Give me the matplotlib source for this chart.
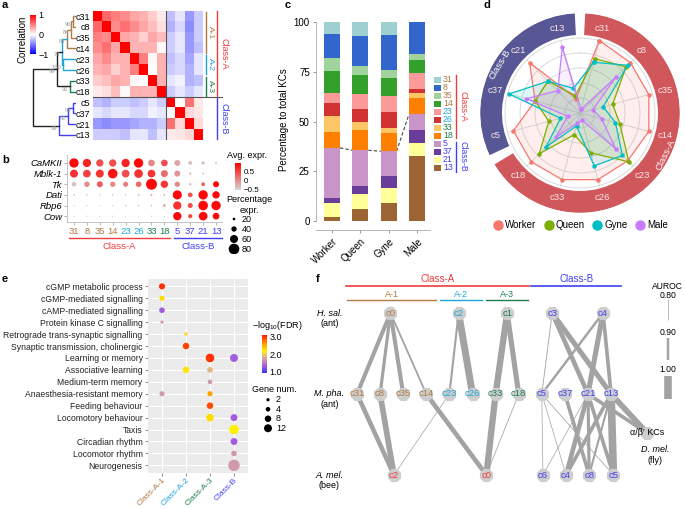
import numpy as np
import matplotlib
matplotlib.use('Agg')
import matplotlib.pyplot as plt
from matplotlib.colors import LinearSegmentedColormap, Normalize
from matplotlib.cm import ScalarMappable
from matplotlib.lines import Line2D

plt.rcParams['font.family'] = ['Liberation Sans', 'DejaVu Sans']
plt.rcParams['font.size'] = 6.5
plt.rcParams['mathtext.fontset'] = 'custom'
plt.rcParams['mathtext.rm'] = 'Liberation Sans'

W, H = 685, 509

A1 = '#B07A45'
A2 = '#1CA7D8'
A3 = '#1D7F4D'
CB = '#3F3FF2'
CA = '#F23A3A'

# ---------------- data ----------------
clusters = ['c31', 'c8', 'c35', 'c14', 'c23', 'c26', 'c33', 'c18', 'c5', 'c37', 'c21', 'c13']
cluster_num = ['31', '8', '35', '14', '23', '26', '33', '18', '5', '37', '21', '13']
cluster_col = [A1] * 4 + [A2] * 2 + [A3] * 2 + [CB] * 4

corr = [
    [1.00, 0.60, 0.50, 0.45, 0.35, 0.30, 0.20, 0.08, -0.25, -0.10, -0.40, -0.20],
    [0.60, 1.00, 0.45, 0.55, 0.45, 0.35, 0.25, 0.12, -0.30, -0.15, -0.45, -0.20],
    [0.50, 0.45, 1.00, 0.35, 0.30, 0.18, 0.35, 0.25, -0.20, -0.10, -0.40, -0.20],
    [0.45, 0.55, 0.35, 1.00, 0.30, 0.30, 0.30, 0.03, -0.20, -0.10, -0.40, -0.25],
    [0.35, 0.45, 0.30, 0.30, 1.00, 0.50, 0.03, 0.30, -0.25, -0.15, -0.35, -0.10],
    [0.30, 0.35, 0.18, 0.30, 0.50, 1.00, 0.00, 0.30, -0.20, -0.15, -0.30, -0.10],
    [0.20, 0.25, 0.35, 0.30, 0.03, 0.00, 1.00, 0.30, -0.10, -0.05, -0.30, -0.25],
    [0.08, 0.12, 0.25, 0.03, 0.30, 0.30, 0.30, 1.00, -0.20, -0.10, -0.20, -0.10],
    [-0.25, -0.30, -0.20, -0.20, -0.25, -0.20, -0.10, -0.20, 1.00, 0.00, 0.55, 0.08],
    [-0.10, -0.15, -0.10, -0.10, -0.15, -0.15, -0.05, -0.10, 0.00, 1.00, 0.15, 0.10],
    [-0.40, -0.45, -0.40, -0.40, -0.35, -0.30, -0.30, -0.20, 0.55, 0.15, 1.00, 0.15],
    [-0.20, -0.20, -0.20, -0.25, -0.10, -0.10, -0.25, -0.10, 0.08, 0.10, 0.15, 1.00],
]

# dendrogram merges: node m{i} = left[i] + right[i]
tree_left = ['c31', 'm0', 'm1', 'c23', 'm2', 'c33', 'm4', 'c5', 'm7', 'm8', 'm6']
tree_right = ['c8', 'c35', 'c14', 'c26', 'm3', 'c18', 'm5', 'c37', 'c21', 'c13', 'm9']
tree_height = [3, 5, 9, 13, 14, 6, 19, 3, 8, 17, 43]
tree_colour = [A1, A1, A1, A2, A2, A3, '#222222', CB, CB, CB, '#222222']
tree_support = ['96', '84', '84', '100', '73', '92', '99', '95', '92', '99', '']

genes = ['CaMKII', 'Mblk-1', 'Tk', 'Dati', 'Rbp6', 'Cow']
avg_expr = [
    [0.9, 0.7, 0.4, 0.4, 0.7, 0.9, 0.0, 0.4, -0.2, -0.4, -0.4, -0.4],
    [0.6, 0.5, 0.6, 0.8, 0.4, 0.6, 0.6, 0.2, -0.1, -0.4, -0.4, -0.5],
    [-0.4, 0.0, 0.3, 0.0, 0.1, 0.2, 0.9, 0.6, 0.0, -0.4, 0.3, 0.9],
    [-0.3, -0.2, -0.2, -0.2, -0.2, -0.1, -0.1, -0.1, 0.9, 0.4, 0.9, 0.9],
    [-0.3, -0.3, -0.3, -0.3, -0.2, -0.2, -0.2, 0.0, 0.6, 0.4, 0.9, 0.9],
    [-0.3, -0.3, -0.3, -0.3, -0.3, -0.3, -0.3, -0.3, 0.9, 0.4, 0.9, 0.9],
]
pct_expr = [
    [70, 62, 55, 55, 62, 70, 50, 50, 45, 30, 25, 15],
    [60, 58, 60, 72, 58, 65, 58, 52, 45, 18, 15, 8],
    [35, 40, 45, 40, 38, 42, 82, 55, 40, 18, 28, 45],
    [12, 10, 10, 10, 10, 12, 14, 12, 68, 35, 70, 55],
    [8, 8, 8, 8, 10, 10, 10, 18, 62, 38, 72, 70],
    [8, 8, 8, 8, 8, 8, 8, 8, 62, 32, 65, 50],
]

castes = ['Worker', 'Queen', 'Gyne', 'Male']
# stacking order bottom -> top
stack_order = ['13', '21', '37', '5', '18', '33', '26', '23', '14', '35', '8', '31']
stack_col = ['#9C6432', '#FFFF99', '#6A3D9A', '#C994C7', '#FF7F00', '#FDC664',
             '#D23232', '#FB9A99', '#33A02C', '#A3D39C', '#3366CC', '#9ED0D2']
worker_pct = [2.0, 7.2, 2.6, 25.0, 7.9, 8.1, 6.7, 5.0, 11.1, 6.6, 12.1, 5.7]
queen_pct = [5.9, 7.9, 4.0, 17.8, 10.1, 4.2, 6.4, 7.6, 9.7, 4.6, 14.9, 6.9]
gyne_pct = [8.9, 7.7, 5.9, 12.6, 9.4, 2.4, 8.1, 7.7, 9.4, 3.9, 17.6, 6.4]
male_pct = [32.6, 6.9, 6.2, 8.1, 7.9, 2.5, 2.4, 8.0, 6.4, 2.9, 16.1, 0.0]
legend_order = ['31', '8', '35', '14', '23', '26', '33', '18', '5', '37', '21', '13']

radar_labels = clusters
worker_r = [1.00, 0.95, 0.95, 0.95, 0.90, 0.92, 0.92, 0.92, 0.92, 0.62, 0.95, 0.20]
queen_r = [0.75, 0.87, 0.45, 0.55, 0.92, 0.55, 0.30, 0.77, 0.43, 0.62, 0.60, 0.24]
gyne_r = [0.70, 0.90, 0.32, 0.49, 0.80, 0.73, 0.18, 0.64, 0.27, 0.98, 0.60, 0.34]
male_r = [0.05, 0.67, 0.18, 0.30, 0.67, 0.10, 0.14, 0.45, 0.17, 0.74, 0.42, 0.91]
caste_col = ['#F8766D', '#7CAE00', '#00BFC4', '#C77CFF']

go_terms = ['cGMP metabolic process', 'cGMP-mediated signalling', 'cAMP-mediated signalling',
            'Protein kinase C signalling', 'Retrograde trans-synaptic signalling',
            'Synaptic transmission, cholinergic', 'Learning or memory', 'Associative learning',
            'Medium-term memory', 'Anaesthesia-resistant memory', 'Feeding behaviour',
            'Locomotory behaviour', 'Taxis', 'Circadian rhythm', 'Locomotor rhythm', 'Neurogenesis']
go_groups = ['Class-A-1', 'Class-A-2', 'Class-A-3', 'Class-B']
go_group_col = [A1, A2, A3, CB]
go_term_idx = [0, 1, 2, 3, 4, 5, 6, 6, 7, 7, 8, 9, 9, 10, 11, 11, 12, 13, 14, 15]
go_group_idx = [0, 0, 0, 0, 1, 1, 2, 3, 1, 2, 2, 0, 2, 2, 2, 3, 3, 3, 3, 3]
go_fdr = [3.0, 2.3, 1.35, 1.7, 2.3, 2.95, 3.0, 1.35, 2.25, 1.9, 1.7, 1.7, 2.6, 2.9, 2.3, 1.35,
          2.2, 1.35, 1.7, 1.7]
go_genes = [7, 5, 6, 2, 2, 8, 14, 12, 8, 6, 4, 5, 5, 8, 11, 9, 17, 9, 6, 25]

# network (f)
hsal_nodes = ['c0', 'c2', 'c1', 'c3', 'c4']
hsal_slot = [1.45, 4.4, 6.5, 8.45, 10.65]
hsal_col = [A1, A2, A3, CB, CB]
amel_nodes = ['c2', 'c0', 'c6', 'c4', 'c8', 'c5']
amel_slot = [1.6, 5.6, 8.05, 9.05, 10.05, 11.1]
amel_col = [CA, CA, CB, CB, CB, CB]
fly_slot, fly_row = 12.55, 1.48
hsal_edges = [('c0', 'c31', 0.94), ('c0', 'c8', 0.92), ('c0', 'c35', 0.94), ('c0', 'c14', 0.88),
              ('c2', 'c23', 0.89), ('c2', 'c26', 0.99), ('c1', 'c33', 0.98), ('c1', 'c18', 0.96),
              ('c3', 'c5', 0.83), ('c3', 'c21', 0.95), ('c3', 'c13', 0.96), ('c4', 'c5', 0.90),
              ('c4', 'c21', 0.96), ('c4', 'c13', 0.93)]
amel_edges = [('c31', 'c2', 0.95), ('c8', 'c2', 0.97), ('c23', 'c2', 0.80), ('c14', 'c0', 0.95),
              ('c33', 'c0', 0.98), ('c18', 'c0', 0.82), ('c5', 'c6', 0.81), ('c5', 'c4', 0.80),
              ('c5', 'c5', 0.82), ('c37', 'c8', 0.93), ('c21', 'c6', 0.80), ('c21', 'c4', 0.95),
              ('c21', 'c8', 0.92), ('c21', 'c5', 0.93), ('c13', 'c4', 0.93), ('c13', 'c8', 0.89),
              ('c13', 'c5', 1.00)]
fly_edges = [('c21', 0.93), ('c13', 0.97)]


def box(x0, y0, x1, y1):
    return [x0 / W, 1 - y1 / H, (x1 - x0) / W, (y1 - y0) / H]


def auroc_lw(a):
    return 0.5 + 5.0 * ((a - 0.8) / 0.2) ** 2


fig = plt.figure(figsize=(W / 100, H / 100), dpi=100)

for x, y, s in [(2, 5, 'a'), (2, 160, 'b'), (285, 5, 'c'), (483, 5, 'd'), (2, 279, 'e'), (316, 279, 'f')]:
    fig.text(x / W, 1 - y / H, s, fontsize=8, weight='bold', va='center', ha='left')

# ---------------- a ----------------
corr_cmap = LinearSegmentedColormap.from_list('corr', ['#0000FF', '#FFFFFF', '#FF0000'])
ax_a = fig.add_axes(box(92.7, 10.6, 222.7, 140.4))
ax_a.imshow(np.array(corr), cmap=corr_cmap, vmin=-1, vmax=1, aspect='auto', interpolation='nearest')
ax_a.axhline(7.5, color='#555555', lw=0.8)
ax_a.axvline(7.5, color='#555555', lw=0.8)
ax_a.set_xticks([])
ax_a.set_yticks(range(12))
ax_a.set_yticklabels(clusters, fontsize=6.5)
ax_a.tick_params(axis='y', length=0, pad=1.5)
for s in ax_a.spines.values():
    s.set_visible(False)
for (r0, r1, col, lab) in [(0, 4, A1, 'A-1'), (4, 6, A2, 'A-2'), (6, 8, A3, 'A-3')]:
    ax_a.plot([11.9, 11.9], [r0 - 0.4, r1 - 0.6], color=col, lw=1, clip_on=False)
    ax_a.text(12.45, (r0 + r1 - 1) / 2, lab, color=col, rotation=270, ha='center', va='center', fontsize=6)
for (r0, r1, col, lab) in [(0, 8, CA, 'Class-A'), (8, 12, CB, 'Class-B')]:
    ax_a.plot([13.1, 13.1], [r0 - 0.45, r1 - 0.65], color=col, lw=1, clip_on=False)
    ax_a.text(13.9, (r0 + r1 - 1) / 2, lab, color=col, rotation=270, ha='center', va='center', fontsize=6.5)

ax_dg = fig.add_axes(box(28, 10.6, 76, 140.4))
ax_dg.set_xlim(48, 0)
ax_dg.set_ylim(11.5, -0.5)
ax_dg.axis('off')
pos = {c: (0, i) for i, c in enumerate(clusters)}
for i in range(len(tree_left)):
    hl, yl = pos[tree_left[i]]
    hr, yr = pos[tree_right[i]]
    h = tree_height[i]
    c = tree_colour[i]
    ax_dg.plot([hl, h, h, hr], [yl, yl, yr, yr], color=c, lw=1.0, solid_joinstyle='miter')
    pos['m%d' % i] = (h, (yl + yr) / 2)
    if tree_support[i]:
        ax_dg.text(h + 1.5, (yl + yr) / 2 + 0.25, tree_support[i], color='#999999', fontsize=4.2,
                   ha='right', va='center')

cax_a = fig.add_axes(box(30, 15, 35.7, 54))
cb = fig.colorbar(ScalarMappable(Normalize(-1, 1), corr_cmap), cax=cax_a, ticks=[-1, 0, 1])
cb.outline.set_visible(False)
cb.ax.set_yticklabels(['\u22121', '0', '1'], fontsize=6.5)
cb.ax.tick_params(length=0, pad=2)
fig.text(22 / W, 1 - 39 / H, 'Correlation', rotation=90, ha='center', va='center', fontsize=7)

# ---------------- b ----------------
expr_cmap = LinearSegmentedColormap.from_list('expr', ['#D6D6D6', '#FF0000'])
expr_norm = Normalize(-0.55, 0.95)
ax_b = fig.add_axes(box(67, 155, 222, 222))
gx, gy = np.meshgrid(np.arange(12), np.arange(6))
ax_b.scatter(gx.ravel(), gy.ravel(), s=(0.096 * np.array(pct_expr).ravel()) ** 2,
             c=np.array(avg_expr).ravel(), cmap=expr_cmap, norm=expr_norm, linewidths=0)
ax_b.set_xlim(-0.54, 11.46)
ax_b.set_ylim(5.55, -0.75)
ax_b.set_yticks(range(6))
ax_b.set_yticklabels(genes, style='italic', fontsize=6.8)
ax_b.set_xticks(range(12))
ax_b.set_xticklabels(cluster_num, fontsize=6.8)
for t, c in zip(ax_b.get_xticklabels(), cluster_col):
    t.set_color(c)
ax_b.tick_params(length=2, width=0.5, color='#999999', pad=1.5)
for k in ['top', 'right']:
    ax_b.spines[k].set_visible(False)
for k in ['left', 'bottom']:
    ax_b.spines[k].set_color('#BBBBBB')
    ax_b.spines[k].set_linewidth(0.6)
ax_b.plot([-0.39, 7.44], [7.08, 7.08], color=CA, lw=1, clip_on=False)
ax_b.plot([7.75, 11.47], [7.08, 7.08], color=CB, lw=1, clip_on=False)
ax_b.text(3.5, 7.85, 'Class-A', color=CA, ha='center', va='center', fontsize=6.8, clip_on=False)
ax_b.text(9.6, 7.85, 'Class-B', color=CB, ha='center', va='center', fontsize=6.8, clip_on=False)

fig.text(227 / W, 1 - 155 / H, 'Avg. expr.', fontsize=6.5, va='center')
cax_b = fig.add_axes(box(235, 163, 241, 190))
cb = fig.colorbar(ScalarMappable(expr_norm, expr_cmap), cax=cax_b, ticks=[-0.5, 0, 0.5])
cb.outline.set_visible(False)
cb.ax.set_yticklabels(['\u22120.5', '0', '0.5'], fontsize=5.8)
cb.ax.tick_params(length=0, pad=2)
fig.text(249 / W, 1 - 200 / H, 'Percentage', fontsize=6.5, ha='center', va='center')
fig.text(249 / W, 1 - 210 / H, 'expr.', fontsize=6.5, ha='center', va='center')
size_keys = [20, 40, 60, 80]
ax_bl = fig.add_axes(box(226, 214, 262, 254))
ax_bl.set_xlim(0, 36)
ax_bl.set_ylim(3.5, -0.5)
ax_bl.axis('off')
ax_bl.scatter([8] * 4, range(4), s=(0.096 * np.array(size_keys)) ** 2, color='black', linewidths=0)
for i, k in enumerate(size_keys):
    ax_bl.text(16, i, str(k), fontsize=6.5, va='center')

# ---------------- c ----------------
ax_c = fig.add_axes(box(316, 10, 430, 230))
bar_w = 0.56
caste_pct = np.array([worker_pct, queen_pct, gyne_pct, male_pct])
bottom = np.zeros(4)
for j in range(12):
    ax_c.bar(range(4), caste_pct[:, j], bar_w, bottom=bottom, color=stack_col[j], linewidth=0, zorder=2)
    bottom += caste_pct[:, j]
class_b_tot = caste_pct[:, :4].sum(axis=1)
for i in range(3):
    ax_c.plot([i + bar_w / 2, i + 1 - bar_w / 2], [class_b_tot[i], class_b_tot[i + 1]],
              ls=(0, (3, 2)), color='#444444', lw=0.8, zorder=1)
ax_c.set_xlim(-0.565, 3.46)
ax_c.set_ylim(-4.53, 106.2)
ax_c.set_yticks([0, 25, 50, 75, 100])
ax_c.set_xticks(range(4))
ax_c.set_xticklabels(castes, rotation=45, ha='right', rotation_mode='anchor', fontsize=7)
ax_c.tick_params(axis='y', labelsize=7)
ax_c.tick_params(length=2.5, width=0.6, color='#888888', pad=2)
for k in ['top', 'right']:
    ax_c.spines[k].set_visible(False)
ax_c.spines['left'].set_bounds(0, 100)
for k in ['left', 'bottom']:
    ax_c.spines[k].set_color('#AAAAAA')
    ax_c.spines[k].set_linewidth(0.6)
ax_c.set_ylabel('Percentage to total KCs', fontsize=7, labelpad=3)

ax_cl = fig.add_axes(box(432, 76, 470, 172))
ax_cl.set_xlim(0, 38)
ax_cl.set_ylim(11.5, -0.5)
ax_cl.axis('off')
for i, lab in enumerate(legend_order):
    j = stack_order.index(lab)
    ax_cl.barh(i, 7, left=2, height=0.85, color=stack_col[j], linewidth=0)
    ax_cl.text(11, i, lab, color=cluster_col[cluster_num.index(lab)], fontsize=6.3, va='center')
ax_cl.plot([24.5, 24.5], [-0.6, 7.3], color=CA, lw=1, clip_on=False)
ax_cl.plot([24.5, 24.5], [7.7, 11.5], color=CB, lw=1, clip_on=False)
ax_cl.text(31, 3.35, 'Class-A', color=CA, rotation=270, ha='center', va='center', fontsize=6.3, clip_on=False)
ax_cl.text(31, 9.6, 'Class-B', color=CB, rotation=270, ha='center', va='center', fontsize=6.3, clip_on=False)

# ---------------- d ----------------
ax_d = fig.add_axes(box(480, 13, 680, 213), projection='polar')
ax_d.set_theta_zero_location('N')
ax_d.set_theta_direction(-1)
ax_d.set_ylim(0, 100 / 75)
ax_d.axis('off')
theta = np.deg2rad(15 + 30 * np.arange(12))
circ = np.linspace(0, 2 * np.pi, 240)
for r in [0.2, 0.4, 0.6, 0.8, 1.0]:
    ax_d.plot(circ, np.full_like(circ, r), color='#D4D4D4', lw=0.6, zorder=1)
for t in theta:
    ax_d.plot([t, t], [0, 1], color='#D4D4D4', lw=0.6, zorder=1)
ax_d.bar(np.deg2rad((3 + 239) / 2), 0.29, width=np.deg2rad(239 - 3), bottom=1.04,
         color='#D0585C', linewidth=0)
ax_d.bar(np.deg2rad((245 + 357) / 2), 0.29, width=np.deg2rad(357 - 245), bottom=1.04,
         color='#585795', linewidth=0)
for t, lab in zip(theta, radar_labels):
    ax_d.text(t, 1.17, lab, color='#FBE6E6', ha='center', va='center', fontsize=6.8)
ax_d.text(np.deg2rad(116), 1.27, 'Class-A', color='white', rotation=64, ha='center', va='center', fontsize=6.8)
ax_d.text(np.deg2rad(301), 1.25, 'Class-B', color='white', rotation=59, ha='center', va='center', fontsize=6.8)
tt = np.append(theta, theta[0])
for vals, col in zip([worker_r, queen_r, gyne_r, male_r], caste_col):
    vv = np.append(vals, vals[0])
    ax_d.fill(tt, vv, color=col, alpha=0.12, lw=0, zorder=2)
    ax_d.plot(tt, vv, color=col, lw=0.9, marker='o', ms=2.2, zorder=3)
handles = [Line2D([], [], marker='o', ls='', color=c, markersize=6.5) for c in caste_col]
fig.legend(handles, castes, loc='center', bbox_to_anchor=(581 / W, 1 - 225 / H), ncol=4,
           frameon=False, fontsize=7, handlelength=0.8, handletextpad=0.3, columnspacing=0.9,
           borderaxespad=0)

# ---------------- e ----------------
fdr_cmap = LinearSegmentedColormap.from_list('fdr', [(0, '#3333FF'), (0.2, '#A860D8'), (0.36, '#D29EA6'),
                                                     (0.45, '#E2BA80'), (0.58, '#FFF000'),
                                                     (0.78, '#FF9A00'), (1, '#FF1500')])
fdr_norm = Normalize(0.94, 3.11)
ax_e = fig.add_axes(box(147.6, 279.2, 248.4, 472.5))
ax_e.set_facecolor('#EBEBEB')
ax_e.scatter(go_group_idx, go_term_idx, s=2.74 * np.array(go_genes), c=go_fdr, cmap=fdr_cmap,
             norm=fdr_norm, linewidths=0, zorder=3)
ax_e.set_xlim(-0.6, 3.6)
ax_e.set_ylim(15.6, -0.6)
ax_e.set_xticks(range(4))
ax_e.set_xticklabels(go_groups, rotation=45, ha='right', rotation_mode='anchor', fontsize=6.0)
for t, c in zip(ax_e.get_xticklabels(), go_group_col):
    t.set_color(c)
ax_e.set_yticks(range(16))
ax_e.set_yticklabels(go_terms, fontsize=6.25, color='#222222')
ax_e.tick_params(length=2, width=0.5, color='#666666', pad=1.5)
ax_e.tick_params(axis='x', pad=1)
ax_e.grid(color='white', lw=0.8, zorder=0)
ax_e.set_axisbelow(True)
for s in ax_e.spines.values():
    s.set_visible(False)

fig.text(252 / W, 1 - 325 / H, '\u2212log$_{10}$(FDR)', fontsize=6.5, va='center')
cax_e = fig.add_axes(box(262, 335, 267, 373))
cb = fig.colorbar(ScalarMappable(fdr_norm, fdr_cmap), cax=cax_e, ticks=[1, 2, 3])
cb.outline.set_visible(False)
cb.ax.set_yticklabels(['1.0', '2.0', '3.0'], fontsize=6.5)
cb.ax.tick_params(length=0, pad=2)
fig.text(252 / W, 1 - 390 / H, 'Gene num.', fontsize=6.5, va='center')
gene_keys = [2, 4, 8, 12]
ax_el = fig.add_axes(box(258, 395, 290, 433))
ax_el.set_xlim(0, 32)
ax_el.set_ylim(3.5, -0.5)
ax_el.axis('off')
ax_el.scatter([10] * 4, range(4), s=2.74 * np.array(gene_keys), color='black', linewidths=0)
for i, k in enumerate(gene_keys):
    ax_el.text(18, i, str(k), fontsize=6.5, va='center')

# ---------------- f ----------------
ax_f = fig.add_axes(box(310, 275, 685, 495))
ax_f.set_xlim((310 - 357) / 23.1, (685 - 357) / 23.1)
ax_f.set_ylim((495 - 313) / 81, (275 - 313) / 81)
ax_f.axis('off')
edge_col = '#A3A3A3'
for a, b, au in hsal_edges:
    ax_f.plot([hsal_slot[hsal_nodes.index(a)], clusters.index(b)], [0, 1], color=edge_col,
              lw=auroc_lw(au), solid_capstyle='butt', zorder=1)
for a, b, au in amel_edges:
    ax_f.plot([clusters.index(a), amel_slot[amel_nodes.index(b)]], [1, 2], color=edge_col,
              lw=auroc_lw(au), solid_capstyle='butt', zorder=1)
for a, au in fly_edges:
    ax_f.plot([clusters.index(a), fly_slot], [1, fly_row], color=edge_col,
              lw=auroc_lw(au), solid_capstyle='butt', zorder=1)
node_kw = dict(marker='8', s=105, color='#CDCDCD', linewidths=0, zorder=3)
ax_f.scatter(hsal_slot, [0] * 5, **node_kw)
ax_f.scatter(range(12), [1] * 12, **node_kw)
ax_f.scatter(amel_slot, [2] * 6, **node_kw)
ax_f.scatter([fly_slot], [fly_row], **node_kw)
for x, lab, c in zip(hsal_slot, hsal_nodes, hsal_col):
    ax_f.text(x, 0, lab, color=c, ha='center', va='center', fontsize=6.8, zorder=4)
for x, lab in enumerate(clusters):
    ax_f.text(x, 1, lab, color=cluster_col[x], ha='center', va='center', fontsize=6.8, zorder=4)
for x, lab, c in zip(amel_slot, amel_nodes, amel_col):
    ax_f.text(x, 2, lab, color=c, ha='center', va='center', fontsize=6.8, zorder=4)
ax_f.text(fly_slot, fly_row, '\u03b1/\u03b2\u2032 KCs', ha='center', va='center', fontsize=6.5, zorder=4)
ax_f.text(12.9, 1.68, 'D. mel.', style='italic', ha='center', va='center', fontsize=6.5)
ax_f.text(12.9, 1.82, '(fly)', ha='center', va='center', fontsize=6.5)
for r, sp, grp in [(0, 'H. sal.', '(ant)'), (1, 'M. pha.', '(ant)'), (2, 'A. mel.', '(bee)')]:
    ax_f.text(-1.2, r, sp, style='italic', ha='center', va='center', fontsize=6.5)
    ax_f.text(-1.2, r + 0.125, grp, ha='center', va='center', fontsize=6.5)
for s0, s1, col, lab in [(0, 3, A1, 'A-1'), (4, 5, A2, 'A-2'), (6, 7, A3, 'A-3')]:
    ax_f.plot([s0 - 0.42, s1 + 0.42], [-0.16, -0.16], color=col, lw=1, clip_on=False)
    ax_f.text((s0 + s1) / 2, -0.225, lab, color=col, ha='center', va='center', fontsize=6.5)
for s0, s1, col, lab in [(0, 7, CA, 'Class-A'), (8, 11, CB, 'Class-B')]:
    ax_f.plot([s0 - 0.47, s1 + 0.45], [-0.333, -0.333], color=col, lw=1.2, clip_on=False)
    ax_f.text((s0 + s1) / 2, -0.42, lab, color=col, ha='center', va='center', fontsize=7)
ax_f.text(13.45, -0.333, 'AUROC', ha='center', va='center', fontsize=6.2)
for (y0, y1, yt, au, lab) in [(-0.17, 0.09, -0.22, 0.80, '0.80'), (0.31, 0.58, 0.235, 0.90, '0.90'),
                              (0.78, 1.06, 0.70, 1.00, '1.00')]:
    ax_f.text(13.45, yt, lab, ha='center', va='center', fontsize=6.2)
    ax_f.plot([13.45, 13.45], [y0, y1], color=edge_col, lw=auroc_lw(au), solid_capstyle='butt')

fig.savefig('out.png', dpi=100)
